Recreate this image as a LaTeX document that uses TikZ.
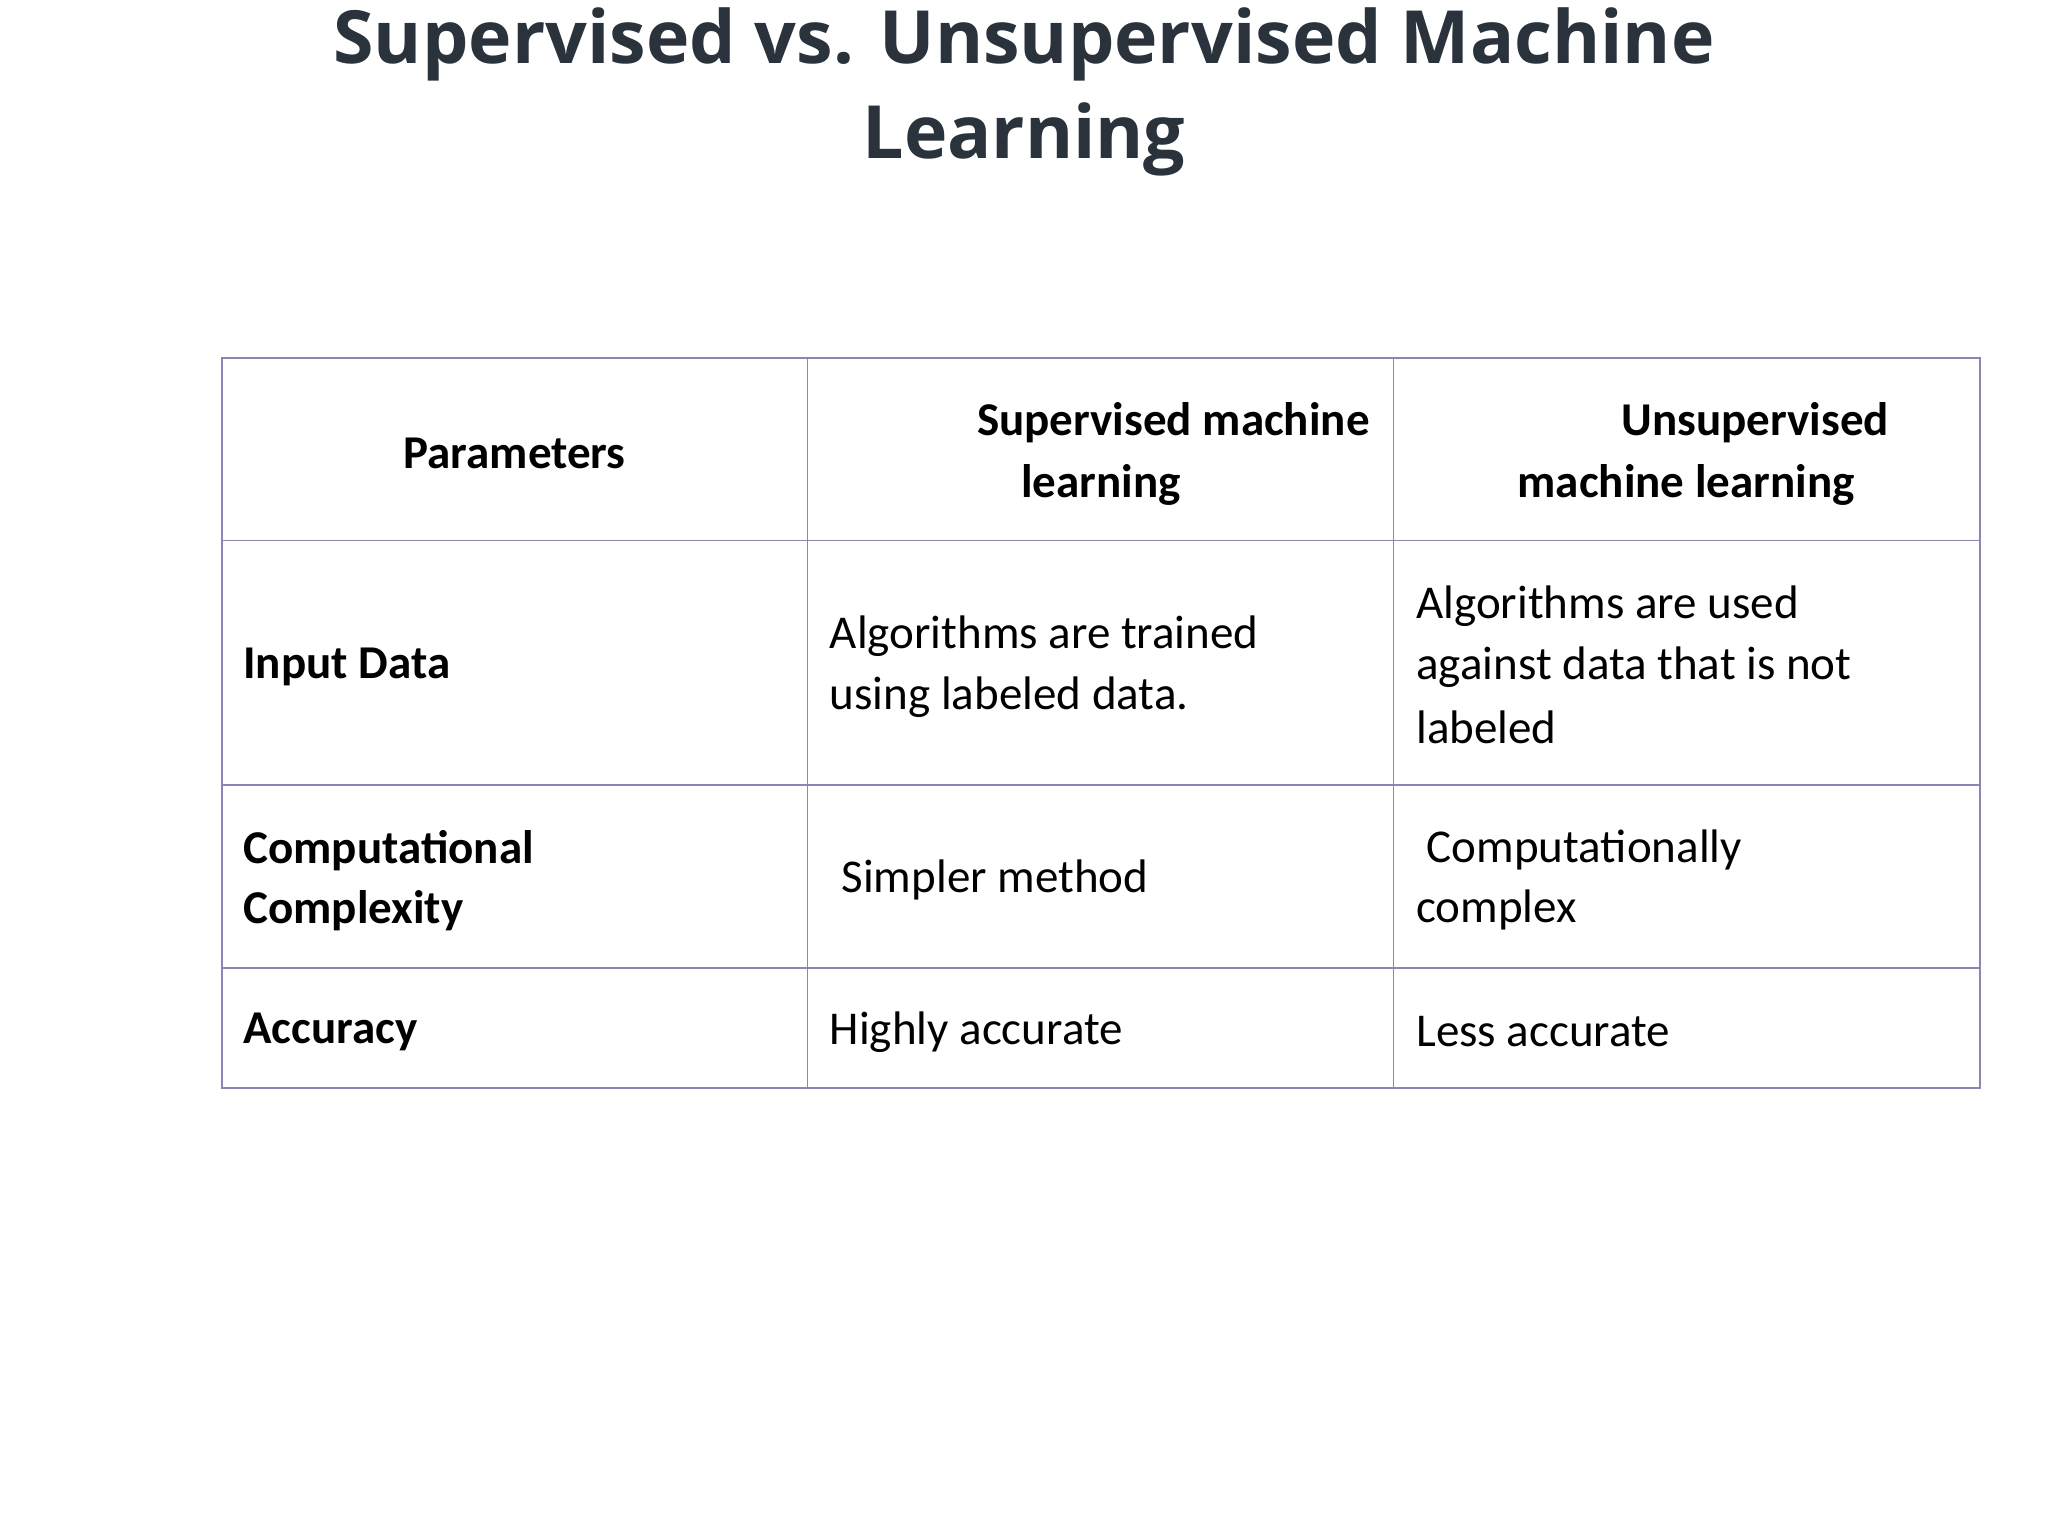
\documentclass[tikz,border=0pt]{standalone}
\usepackage{fontspec}
\setmainfont{Carlito}
\newfontfamily\titlefont{Open Sans}
\definecolor{titlec}{RGB}{42,50,60}
\definecolor{gridc}{RGB}{140,132,180}
\begin{document}
\begin{tikzpicture}[x=0.02cm,y=-0.02cm,
  cell/.style={font=\fontsize{20.5}{27}\selectfont, inner sep=0pt},
  hd/.style={cell, font=\fontsize{20.5}{27}\selectfont\bfseries},
  ttl/.style={font=\titlefont\fontsize{32}{38}\selectfont\bfseries, text=titlec, inner sep=0pt}]
\useasboundingbox (0,0) rectangle (1568,1176);
\node[ttl] (t1) at (784,34) {Supervised vs. Unsupervised Machine};
\node[ttl] (t2) at (784,107) {Learning};
\draw[gridc, line width=0.6pt] (170,274) rectangle (1516,833);
\foreach \x in {618,1067} \draw[gridc, line width=0.6pt] (\x,274) -- (\x,833);
\foreach \y in {414,601,741} \draw[gridc, line width=0.6pt] (170,\y) -- (1516,\y);
\node[hd] (h1) at (394,347) {Parameters};
\node[hd, anchor=east] (h2a) at (1049,324) {Supervised machine};
\node[hd] (h2b) at (843,371) {learning};
\node[hd] (h3a) at (1344,324) {Unsupervised};
\node[hd] (h3b) at (1291,371) {machine learning};
\node[hd, anchor=west] (r1) at (186,511) {Input Data};
\node[hd, anchor=west] (r2a) at (186,651) {Computational};
\node[hd, anchor=west] (r2b) at (186,697) {Complexity};
\node[hd, anchor=west] (r3) at (186,790) {Accuracy};
\node[cell, anchor=west] (c11a) at (635,487) {Algorithms are trained};
\node[cell, anchor=west] (c11b) at (635,534) {using labeled data.};
\node[cell, anchor=west] (c12a) at (1084,464) {Algorithms are used};
\node[cell, anchor=west] (c12b) at (1084,511) {against data that is not};
\node[cell, anchor=west] (c12c) at (1084,557) {labeled};
\node[cell, anchor=west] (c21) at (644,674) {Simpler method};
\node[cell, anchor=west] (c22a) at (1092,651) {Computationally};
\node[cell, anchor=west] (c22b) at (1084,697) {complex};
\node[cell, anchor=west] (c31) at (635,790) {Highly accurate};
\node[cell, anchor=west] (c32) at (1084,790) {Less accurate};
\end{tikzpicture}
\end{document}
